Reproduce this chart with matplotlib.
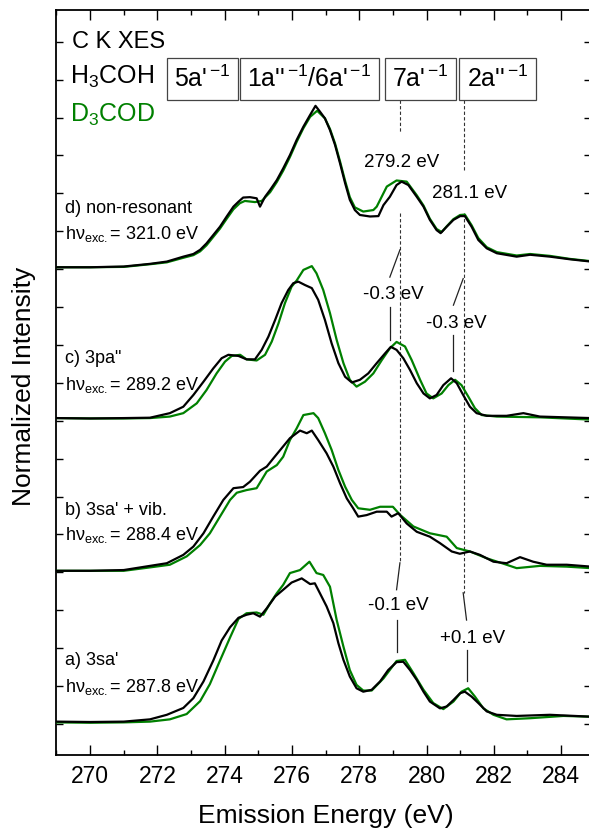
import matplotlib
matplotlib.use("Agg")
import matplotlib.pyplot as plt
from matplotlib.ticker import MultipleLocator

plt.rcParams['font.family'] = ['Liberation Sans', 'DejaVu Sans']
plt.rcParams['mathtext.fontset'] = 'custom'
plt.rcParams['mathtext.rm'] = 'Liberation Sans'
plt.rcParams['mathtext.it'] = 'Liberation Sans:italic'
plt.rcParams['mathtext.bf'] = 'Liberation Sans:bold'

GREEN = '#008000'

# ---- spectra (emission energy in eV, normalized intensity before stacking) ----
# a) 3sa', excitation 287.8 eV
e_a_h = [269.0, 270.0, 271.0, 271.78, 272.28, 272.77, 273.07, 273.37, 273.66, 273.91, 274.16, 274.41,
         274.65, 274.85, 275.05, 275.25, 275.5, 275.74, 275.99, 276.29, 276.54, 276.68, 276.83, 277.03,
         277.23, 277.38, 277.53, 277.72, 277.92, 278.12, 278.37, 278.62, 278.86, 279.11, 279.31, 279.51,
         279.71, 279.91, 280.1, 280.4, 280.6, 280.8, 281.0, 281.14, 281.34, 281.54, 281.79, 282.09,
         282.68, 283.67, 284.89]
i_a_h = [0.06, 0.05, 0.06, 0.12, 0.24, 0.42, 0.68, 1.12, 1.67, 2.20, 2.55, 2.80,
         2.88, 2.92, 2.83, 3.05, 3.36, 3.54, 3.73, 3.84, 3.69, 3.71, 3.45, 3.10,
         2.66, 2.13, 1.69, 1.25, 0.94, 0.85, 0.90, 1.12, 1.42, 1.63, 1.64, 1.42,
         1.16, 0.85, 0.59, 0.41, 0.46, 0.63, 0.81, 0.85, 0.72, 0.55, 0.33, 0.24,
         0.21, 0.24, 0.19]
e_a_d = [269.0, 270.0, 271.0, 271.78, 272.37, 272.87, 273.27, 273.56, 273.86, 274.16, 274.41, 274.65,
         274.95, 275.15, 275.35, 275.55, 275.74, 275.94, 276.24, 276.52, 276.73, 276.93, 277.13, 277.33,
         277.53, 277.72, 277.92, 278.12, 278.37, 278.72, 279.11, 279.36, 279.61, 279.91, 280.2, 280.5,
         280.8, 281.04, 281.24, 281.44, 281.69, 281.99, 282.38, 283.08, 284.07, 284.89]
i_a_d = [0.04, 0.03, 0.04, 0.06, 0.12, 0.26, 0.60, 1.05, 1.67, 2.28, 2.77, 2.92,
         2.94, 2.88, 3.18, 3.45, 3.67, 3.98, 4.06, 4.28, 3.98, 3.93, 3.62, 2.74,
         2.04, 1.42, 1.03, 0.88, 0.88, 1.20, 1.66, 1.69, 1.34, 0.90, 0.55, 0.39,
         0.59, 0.85, 0.94, 0.72, 0.41, 0.24, 0.12, 0.15, 0.21, 0.19]

# b) 3sa' + vib., excitation 288.4 eV
e_b_h = [269.0, 270.0, 271.0, 271.78, 272.28, 272.77, 273.07, 273.37, 273.66, 273.96, 274.26, 274.55,
         274.75, 275.05, 275.25, 275.45, 275.69, 275.94, 276.24, 276.44, 276.59, 276.78, 277.03, 277.23,
         277.43, 277.63, 277.82, 277.97, 278.22, 278.52, 278.82, 278.96, 279.16, 279.41, 279.71, 280.1,
         280.4, 280.75, 280.99, 281.29, 281.59, 281.99, 282.38, 282.78, 283.17, 283.57, 284.17, 284.89]
i_b_h = [0.04, 0.04, 0.06, 0.17, 0.24, 0.46, 0.68, 1.03, 1.47, 1.91, 2.22, 2.25,
         2.39, 2.68, 2.79, 3.01, 3.27, 3.54, 3.74, 3.67, 3.74, 3.49, 3.14, 2.79,
         2.35, 1.95, 1.69, 1.47, 1.51, 1.60, 1.60, 1.47, 1.56, 1.29, 1.07, 0.94,
         0.77, 0.55, 0.49, 0.55, 0.46, 0.28, 0.24, 0.40, 0.28, 0.20, 0.20, 0.15]
e_b_d = [269.0, 270.0, 271.0, 271.78, 272.37, 272.87, 273.27, 273.56, 273.86, 274.16, 274.36, 274.65,
         274.95, 275.25, 275.55, 275.74, 275.94, 276.14, 276.34, 276.64, 276.78, 276.98, 277.18, 277.38,
         277.58, 277.78, 277.97, 278.32, 278.62, 279.0, 279.21, 279.61, 280.1, 280.6, 280.9, 281.29,
         281.79, 282.38, 282.68, 283.37, 284.17, 284.89]
i_b_d = [0.04, 0.04, 0.04, 0.13, 0.20, 0.42, 0.72, 1.03, 1.47, 1.91, 2.10, 2.17,
         2.22, 2.66, 2.83, 3.05, 3.49, 3.80, 4.15, 4.20, 4.07, 3.67, 3.23, 2.70,
         2.26, 1.91, 1.69, 1.65, 1.73, 1.73, 1.52, 1.21, 1.03, 0.94, 0.64, 0.55,
         0.37, 0.20, 0.11, 0.17, 0.15, 0.11]

# c) 3pa'', excitation 289.2 eV
e_c_h = [269.0, 270.0, 271.0, 271.78, 272.37, 272.77, 273.07, 273.37, 273.66, 273.91, 274.11, 274.41,
         274.65, 274.9, 275.1, 275.3, 275.5, 275.69, 275.89, 276.04, 276.19, 276.39, 276.59, 276.78,
         276.98, 277.18, 277.38, 277.58, 277.78, 278.02, 278.27, 278.52, 278.77, 278.94, 279.11, 279.31,
         279.51, 279.71, 279.91, 280.1, 280.3, 280.5, 280.73, 280.9, 281.09, 281.29, 281.49, 281.79,
         282.38, 282.88, 283.37, 284.89]
i_c_h = [0.07, 0.06, 0.07, 0.08, 0.20, 0.37, 0.68, 1.03, 1.38, 1.65, 1.74, 1.71,
         1.62, 1.62, 1.87, 2.22, 2.66, 3.10, 3.45, 3.63, 3.67, 3.58, 3.50, 3.19,
         2.66, 2.04, 1.52, 1.16, 1.01, 1.08, 1.25, 1.52, 1.78, 1.95, 1.87, 1.65,
         1.34, 0.99, 0.72, 0.59, 0.68, 0.94, 1.12, 0.99, 0.68, 0.37, 0.20, 0.13,
         0.13, 0.20, 0.11, 0.07]
e_c_d = [269.0, 270.0, 271.0, 271.78, 272.37, 272.77, 273.17, 273.46, 273.76, 274.01, 274.21, 274.46,
         274.65, 274.95, 275.2, 275.4, 275.6, 275.79, 275.99, 276.14, 276.34, 276.59, 276.73, 276.93,
         277.13, 277.33, 277.53, 277.72, 277.92, 278.17, 278.42, 278.67, 278.91, 279.11, 279.36, 279.56,
         279.81, 280.0, 280.2, 280.45, 280.65, 280.85, 281.04, 281.24, 281.44, 281.64, 282.09, 283.37,
         284.89]
i_c_d = [0.07, 0.06, 0.06, 0.07, 0.11, 0.20, 0.46, 0.81, 1.25, 1.56, 1.71, 1.74,
         1.62, 1.59, 1.74, 2.09, 2.57, 3.10, 3.54, 3.70, 3.98, 4.08, 3.89, 3.45,
         2.84, 2.13, 1.52, 1.08, 0.90, 1.03, 1.25, 1.60, 1.91, 2.08, 1.96, 1.60,
         1.08, 0.72, 0.59, 0.72, 0.94, 1.08, 0.94, 0.64, 0.33, 0.15, 0.11, 0.09,
         0.03]

# d) non-resonant, excitation 321.0 eV
e_d_h = [269.0, 270.0, 271.0, 271.78, 272.28, 272.77, 273.07, 273.27, 273.46, 273.66, 273.86, 274.06,
         274.26, 274.41, 274.55, 274.75, 274.95, 275.05, 275.2, 275.35, 275.55, 275.74, 275.94, 276.14,
         276.34, 276.54, 276.70, 276.83, 276.98, 277.13, 277.28, 277.43, 277.58, 277.72, 277.87, 278.02,
         278.32, 278.57, 278.72, 278.91, 279.11, 279.26, 279.46, 279.71, 279.91, 280.10, 280.30, 280.42,
         280.60, 280.80, 281.0, 281.14, 281.34, 281.54, 281.79, 282.09, 282.68, 283.08, 283.67, 284.27,
         284.89]
i_d_h = [0.05, 0.05, 0.07, 0.14, 0.20, 0.33, 0.40, 0.51, 0.68, 0.90, 1.12, 1.39,
         1.65, 1.78, 1.89, 1.90, 1.87, 1.65, 1.91, 2.09, 2.35, 2.66, 3.01, 3.41,
         3.76, 4.07, 4.31, 4.16, 3.98, 3.67, 3.28, 2.79, 2.27, 1.83, 1.56, 1.43,
         1.39, 1.40, 1.69, 1.91, 2.22, 2.31, 2.22, 1.91, 1.65, 1.30, 1.03, 0.95,
         1.12, 1.30, 1.40, 1.40, 1.12, 0.77, 0.55, 0.42, 0.33, 0.38, 0.33, 0.26,
         0.20]
e_d_d = [269.0, 270.0, 271.0, 271.78, 272.28, 272.77, 273.07, 273.27, 273.46, 273.66, 273.86, 274.06,
         274.26, 274.45, 274.6, 274.9, 275.1, 275.35, 275.55, 275.74, 275.94, 276.14, 276.34, 276.54,
         276.75, 276.98, 277.13, 277.28, 277.43, 277.58, 277.72, 277.87, 278.12, 278.42, 278.52, 278.82,
         279.11, 279.41, 279.71, 279.91, 280.10, 280.30, 280.45, 280.60, 280.80, 281.0, 281.14, 281.34,
         281.54, 281.79, 282.09, 282.68, 283.08, 283.67, 284.27, 284.89]
i_d_d = [0.05, 0.05, 0.06, 0.13, 0.18, 0.30, 0.37, 0.47, 0.63, 0.85, 1.07, 1.33,
         1.58, 1.74, 1.80, 1.77, 1.80, 2.03, 2.30, 2.60, 2.96, 3.36, 3.72, 4.02,
         4.18, 3.98, 3.70, 3.32, 2.84, 2.33, 1.90, 1.63, 1.52, 1.56, 1.65, 2.18,
         2.34, 2.31, 1.95, 1.68, 1.33, 1.06, 0.98, 1.13, 1.32, 1.43, 1.44, 1.16,
         0.82, 0.58, 0.45, 0.36, 0.40, 0.35, 0.27, 0.21]

panel_offsets = [0, 4, 8, 12]
panel_titles = ["a) 3sa'", "b) 3sa' + vib.", 'c) 3pa"', "d) non-resonant"]
excitation_energies = ["287.8", "288.4", "289.2", "321.0"]
orbital_labels = [r"5a'$^{\,\mathrm{-1}}$", r"1a''$^{\,\mathrm{-1}}$/6a'$^{\,\mathrm{-1}}$",
                  r"7a'$^{\,\mathrm{-1}}$", r"2a''$^{\,\mathrm{-1}}$"]
orbital_centers = [273.34, 276.52, 279.82, 282.11]
peak_positions = [279.2, 281.1]

spectra_h = [(e_a_h, i_a_h), (e_b_h, i_b_h), (e_c_h, i_c_h), (e_d_h, i_d_h)]
spectra_d = [(e_a_d, i_a_d), (e_b_d, i_b_d), (e_c_d, i_c_d), (e_d_d, i_d_d)]

fig = plt.figure(figsize=(5.89, 8.30), dpi=100)
ax = fig.add_axes([0.0959, 0.0904, 0.9075, 0.8976])

for (eh, ih), (ed, idd), off in zip(spectra_h, spectra_d, panel_offsets):
    ax.plot(ed, [v + off for v in idd], color=GREEN, lw=1.6, zorder=3,
            solid_joinstyle='round')
    ax.plot(eh, [v + off for v in ih], color='black', lw=1.6, zorder=4,
            solid_joinstyle='round')

ax.set_xlim(269.0, 284.89)
ax.set_ylim(-0.82, 18.84)

ax.xaxis.set_major_locator(MultipleLocator(2))
ax.xaxis.set_minor_locator(MultipleLocator(1))
ax.yaxis.set_major_locator(MultipleLocator(1))
ax.set_yticklabels([])
ax.tick_params(axis='both', which='both', direction='in', top=True, right=True, width=1.0)
ax.tick_params(axis='x', which='major', length=7, labelsize=16.5, pad=7)
ax.tick_params(axis='x', which='minor', length=3.5)
ax.tick_params(axis='y', which='major', length=5)
for sp in ax.spines.values():
    sp.set_linewidth(1.3)

fig.text(0.5530, 0.0085, "Emission Energy (eV)", fontsize=19, ha='center', va='baseline')
fig.text(0.041, 0.535, "Normalized Intensity", fontsize=19, rotation=90, ha='center', va='center')

# header labels
ax.text(269.46, 17.83, "C K XES", fontsize=17, ha='left', va='baseline')
ax.text(269.40, 16.90, r"H$_\mathrm{3}$COH", fontsize=18, ha='left', va='baseline')
ax.text(269.40, 15.89, r"D$_\mathrm{3}$COD", fontsize=18, ha='left', va='baseline', color=GREEN)

# orbital boxes
for lab, xc in zip(orbital_labels, orbital_centers):
    ax.text(xc, 17.02, lab, fontsize=18, ha='center', va='center', zorder=6,
            bbox=dict(boxstyle='square,pad=0.3', fc='white', ec='#444444', lw=0.9))

# panel labels and excitation energies
title_y = [1.56, 5.51, 9.52, 13.47]
exc_y = [0.85, 4.85, 8.81, 12.79]
for t, ex, ty, ey in zip(panel_titles, excitation_energies, title_y, exc_y):
    ax.text(269.25, ty, t, fontsize=13, ha='left', va='baseline')
    ax.text(269.25, ey, "h\u03bd$_{\\mathrm{exc.}}$= " + ex + " eV", fontsize=13,
            ha='left', va='baseline')

# dashed guides at the non-resonant peak positions
dash_kw = dict(color='#333333', lw=0.8, ls=(0, (3, 2)), zorder=2)
ax.plot([peak_positions[0]] * 2, [16.46, 15.59], **dash_kw)
ax.plot([peak_positions[0]] * 2, [13.48, 4.25], **dash_kw)
ax.plot([peak_positions[1]] * 2, [16.46, 14.62], **dash_kw)
ax.plot([peak_positions[1]] * 2, [13.48, 3.46], **dash_kw)

ax.text(279.27, 14.70, "279.2 eV", fontsize=13.5, ha='center', va='baseline')
ax.text(281.29, 13.87, "281.1 eV", fontsize=13.5, ha='center', va='baseline')

# shift markers
line_kw = dict(color='#222222', lw=0.9, zorder=2)
shift_marks = [
    # (x on guide, y start, x peak, y end of slant, label, label x, label y, y top, y bottom)
    (279.21, 12.51, 278.91, 11.79, "-0.3 eV", 279.00, 11.20, 11.00, 10.13),
    (281.09, 11.75, 280.80, 11.05, "-0.3 eV", 280.90, 10.44, 10.26, 9.30),
    (279.21, 4.25, 279.11, 3.54, "-0.1 eV", 279.15, 3.01, 2.74, 1.90),
    (281.09, 3.46, 281.19, 2.74, "+0.1 eV", 281.38, 2.13, 1.95, 1.12),
]
for xg, y0, xp, y1, lab, lx, ly, yt, yb in shift_marks:
    ax.plot([xg, xp], [y0, y1], **line_kw)
    ax.text(lx, ly, lab, fontsize=13.5, ha='center', va='baseline')
    ax.plot([xp, xp], [yt, yb], **line_kw)

fig.savefig("out.png", dpi=100)
